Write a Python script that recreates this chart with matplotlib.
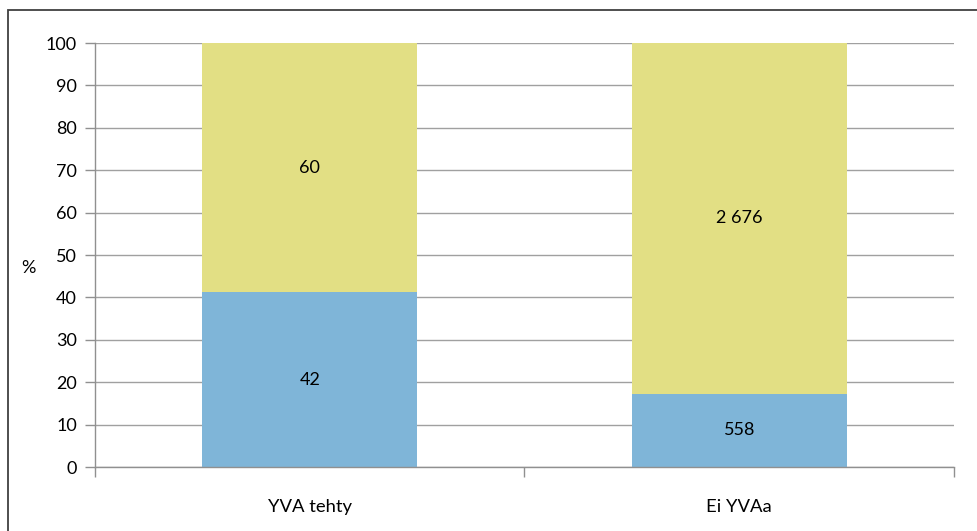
import numpy as np
import matplotlib.pyplot as plt
from matplotlib.patches import Rectangle

categories = ["YVA tehty", "Ei YVAa"]
counts_blue = [42, 558]
counts_yellow = [60, 2676]
label_blue = ["42", "558"]
label_yellow = ["60", "2 676"]

plt.rcParams["font.family"] = ["Lato", "DejaVu Sans"]

blue = np.array(counts_blue, dtype=float)
yellow = np.array(counts_yellow, dtype=float)
total = blue + yellow
pct_blue = blue / total * 100
pct_yellow = yellow / total * 100

fig = plt.figure(figsize=(9.78, 5.31), dpi=100)
ax = fig.add_axes([95 / 978, 1 - 467 / 531, (954 - 95) / 978, (467 - 43) / 531])

x = np.arange(len(categories))
ax.bar(x, pct_blue, width=0.5, color="#7FB5D8", zorder=2)
ax.bar(x, pct_yellow, width=0.5, bottom=pct_blue, color="#E2DF84", zorder=2)

for i in range(len(categories)):
    ax.text(x[i], pct_blue[i] / 2, label_blue[i], ha="center", va="center",
            fontsize=13, color="black", zorder=3)
    ax.text(x[i], pct_blue[i] + pct_yellow[i] / 2, label_yellow[i], ha="center",
            va="center", fontsize=13, color="black", zorder=3)

ax.set_xlim(-0.5, 1.5)
ax.set_ylim(0, 100)
ax.set_yticks(np.arange(0, 101, 10))
ax.yaxis.grid(True, color="#a0a0a0", linewidth=1.0, zorder=0)
ax.set_axisbelow(True)

# category labels centered, tick marks at category boundaries
ax.set_xticks([-0.5, 0.5, 1.5])
ax.set_xticklabels([])
ax.set_xticks(x, minor=True)
ax.set_xticklabels(categories, minor=True, fontsize=13.3)
ax.tick_params(axis="x", which="minor", length=0, pad=23)
ax.tick_params(axis="x", which="major", length=7, color="#909090", width=1)
ax.tick_params(axis="y", length=7, color="#909090", width=1, labelsize=13, pad=6)

for side in ["top", "right"]:
    ax.spines[side].set_visible(False)
for side in ["left", "bottom"]:
    ax.spines[side].set_color("#909090")
    ax.spines[side].set_linewidth(1)

ax.set_ylabel("%", rotation=0, fontsize=13, ha="center", va="center")
ax.yaxis.set_label_coords((28 - 95) / 859, (467 - 268) / 424)

fig.add_artist(Rectangle((8 / 978, -0.1), 1.2, 1 - 10 / 531 + 0.1,
                         transform=fig.transFigure, fill=False,
                         edgecolor="#404040", linewidth=1.3))

fig.savefig("out.png", dpi=100)
